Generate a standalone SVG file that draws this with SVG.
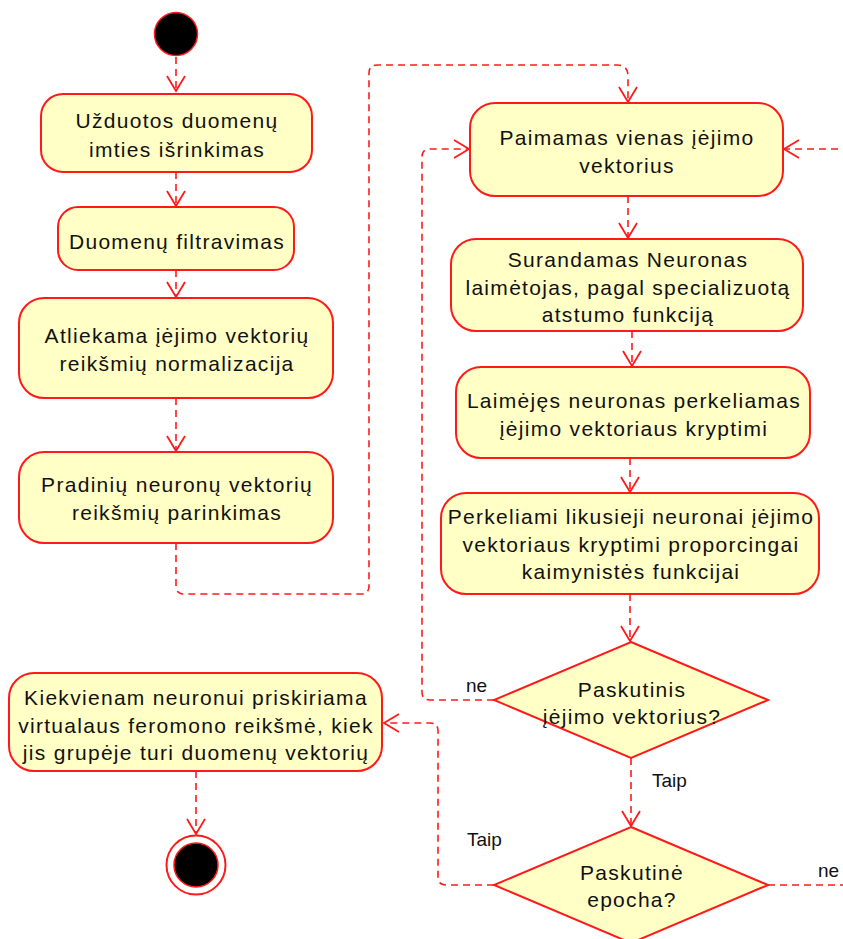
<svg xmlns="http://www.w3.org/2000/svg" width="843" height="939" viewBox="0 0 843 939">
  <style>
    .act { fill: #FFFFC6; stroke: #FF1A1A; stroke-width: 2; }
    .dec { fill: #FFFFC6; stroke: #FF1A1A; stroke-width: 2; }
    .lbl { font-family: "Liberation Sans", Arial, sans-serif; font-size: 21px; letter-spacing: 1.3px; fill: #111; text-anchor: middle; }
    .edge-lbl { font-family: "Liberation Sans", Arial, sans-serif; font-size: 19px; fill: #111; }
    .flow { fill: none; stroke: #FF1A1A; stroke-width: 1.6; stroke-dasharray: 7 5; }
  </style>
  <defs>
    <marker id="open-arrow" viewBox="-16 -10 18 20" refX="0" refY="0" markerWidth="18" markerHeight="20" markerUnits="userSpaceOnUse" orient="auto">
      <path d="M-15,-9 L0,0 L-15,9" fill="none" stroke="#FF1A1A" stroke-width="1.8"/>
    </marker>
  </defs>

  <g id="connectors">
    <path class="flow" d="M176,57 V91" marker-end="url(#open-arrow)"/>
    <path class="flow" d="M176,172 V206" marker-end="url(#open-arrow)"/>
    <path class="flow" d="M176,270 V297" marker-end="url(#open-arrow)"/>
    <path class="flow" d="M176,398 V451" marker-end="url(#open-arrow)"/>
    <path class="flow" d="M176,543 V586 Q176,594 184,594 H361 Q369,594 369,586 V73 Q369,65 377,65 H617 Q628,65 628,76 V102" marker-end="url(#open-arrow)"/>
    <path class="flow" d="M628,196 V238" marker-end="url(#open-arrow)"/>
    <path class="flow" d="M632,331 V366" marker-end="url(#open-arrow)"/>
    <path class="flow" d="M630,458 V492" marker-end="url(#open-arrow)"/>
    <path class="flow" d="M630,594 V641" marker-end="url(#open-arrow)"/>
    <path class="flow" d="M494,700 H430 Q422,700 422,692 V157 Q422,149 430,149 H469" marker-end="url(#open-arrow)"/>
    <path class="flow" d="M631,758 V826" marker-end="url(#open-arrow)"/>
    <path class="flow" d="M494,885 H446 Q438,885 438,877 V731 Q438,723 430,723 H384" marker-end="url(#open-arrow)"/>
    <path class="flow" d="M768,885 H850"/>
    <path class="flow" d="M850,149 H784" marker-end="url(#open-arrow)"/>
    <path class="flow" d="M196,771 V834" marker-end="url(#open-arrow)"/>
  </g>

  <g id="start">
    <circle cx="176" cy="34" r="21.5" fill="#000" stroke="#FF1A1A" stroke-width="1.5"/>
  </g>

  <g id="sample-selection">
    <rect class="act" x="41" y="94" width="271" height="78" rx="22"/>
    <text class="lbl" x="177" y="128">Užduotos duomenų</text>
    <text class="lbl" x="177" y="157">imties išrinkimas</text>
  </g>

  <g id="filtering">
    <rect class="act" x="58" y="207" width="236" height="63" rx="20"/>
    <text class="lbl" x="177" y="249">Duomenų filtravimas</text>
  </g>

  <g id="normalization">
    <rect class="act" x="19" y="298" width="314" height="100" rx="25"/>
    <text class="lbl" x="177" y="343">Atliekama įėjimo vektorių</text>
    <text class="lbl" x="177" y="371">reikšmių normalizacija</text>
  </g>

  <g id="initial-vectors">
    <rect class="act" x="19" y="452" width="314" height="91" rx="25"/>
    <text class="lbl" x="177" y="492">Pradinių neuronų vektorių</text>
    <text class="lbl" x="177" y="520">reikšmių parinkimas</text>
  </g>

  <g id="take-input">
    <rect class="act" x="470" y="103" width="313" height="93" rx="25"/>
    <text class="lbl" x="627" y="145">Paimamas vienas įėjimo</text>
    <text class="lbl" x="627" y="173">vektorius</text>
  </g>

  <g id="find-winner">
    <rect class="act" x="451" y="239" width="352" height="92" rx="25"/>
    <text class="lbl" x="628" y="267">Surandamas Neuronas</text>
    <text class="lbl" x="628" y="295">laimėtojas, pagal specializuotą</text>
    <text class="lbl" x="628" y="322">atstumo funkciją</text>
  </g>

  <g id="move-winner">
    <rect class="act" x="456" y="367" width="354" height="91" rx="25"/>
    <text class="lbl" x="634" y="408">Laimėjęs neuronas perkeliamas</text>
    <text class="lbl" x="634" y="436">įėjimo vektoriaus kryptimi</text>
  </g>

  <g id="move-others">
    <rect class="act" x="441" y="493" width="378" height="101" rx="25"/>
    <text class="lbl" x="631" y="524">Perkeliami likusieji neuronai įėjimo</text>
    <text class="lbl" x="631" y="552">vektoriaus kryptimi proporcingai</text>
    <text class="lbl" x="631" y="579">kaimynistės funkcijai</text>
  </g>

  <g id="last-vector">
    <polygon class="dec" points="631,642 768,700 631,758 494,700"/>
    <text class="lbl" x="632" y="697">Paskutinis</text>
    <text class="lbl" x="632" y="724">įėjimo vektorius?</text>
  </g>

  <g id="last-epoch">
    <polygon class="dec" points="631,827 768,885 631,943 494,885"/>
    <text class="lbl" x="632" y="880">Paskutinė</text>
    <text class="lbl" x="632" y="907">epocha?</text>
  </g>

  <g id="pheromone">
    <rect class="act" x="9" y="673" width="373" height="98" rx="25"/>
    <text class="lbl" x="196" y="705">Kiekvienam neuronui priskiriama</text>
    <text class="lbl" x="196" y="733">virtualaus feromono reikšmė, kiek</text>
    <text class="lbl" x="196" y="760">jis grupėje turi duomenų vektorių</text>
  </g>

  <g id="end">
    <circle cx="196" cy="865" r="29.5" fill="#fff" stroke="#FF1A1A" stroke-width="2"/>
    <circle cx="196" cy="865" r="22" fill="#000" stroke="#FF1A1A" stroke-width="1.5"/>
  </g>

  <g id="edge-labels">
    <text class="edge-lbl" x="466" y="692">ne</text>
    <text class="edge-lbl" x="652" y="787">Taip</text>
    <text class="edge-lbl" x="467" y="846">Taip</text>
    <text class="edge-lbl" x="818" y="877">ne</text>
  </g>
</svg>
